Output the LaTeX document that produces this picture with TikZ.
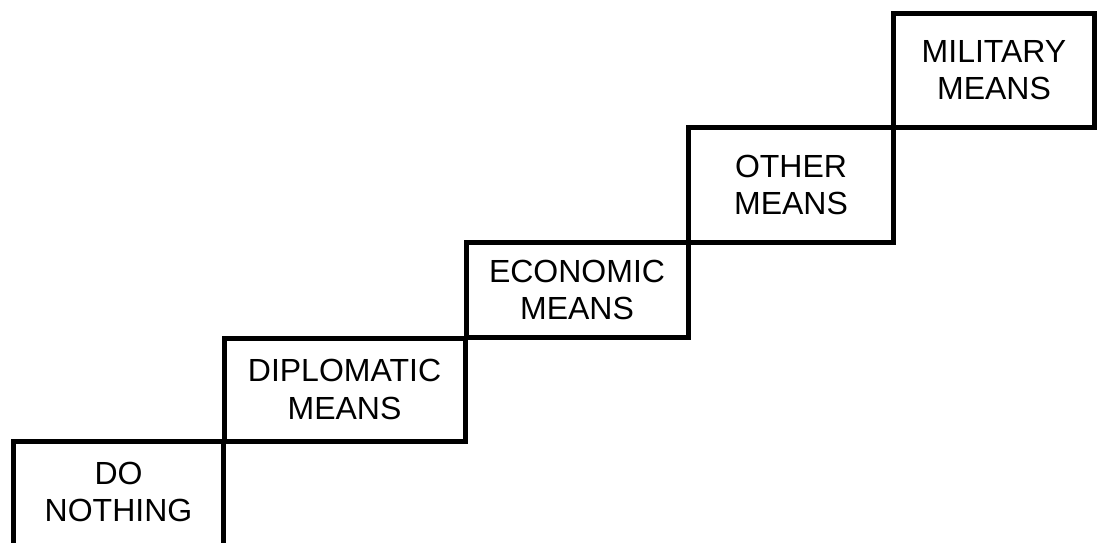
\documentclass[tikz,border=0pt]{standalone}
\usepackage{fontspec}
\setmainfont{Liberation Sans}
\begin{document}
\begin{tikzpicture}[x=1pt, y=-1pt,
  stair/.style={rectangle, draw, line width=5pt, inner sep=0pt, outer sep=0pt,
    align=center, font=\fontsize{32}{37.7}\selectfont},
  openstair/.style={stair, draw=none}]
  \useasboundingbox (0,0) rectangle (1097,542);
  % lowest step runs off the bottom edge, so only three of its sides are drawn
  \node[openstair, minimum width=210pt, minimum height=101pt] (n1) at (118.5,492) {DO\\NOTHING};
  \draw[line width=5pt] (n1.south west) -- (n1.north west) -- (n1.north east) -- (n1.south east);
  \node[stair, minimum width=241pt, minimum height=103.5pt] (n2) at (344.5,389.75) {DIPLOMATIC\\MEANS};
  \node[stair, minimum width=222pt, minimum height=95pt] (n3) at (577,290) {ECONOMIC\\MEANS};
  \node[stair, minimum width=205pt, minimum height=115pt] (n4) at (791,185) {OTHER\\MEANS};
  \node[stair, minimum width=201pt, minimum height=114.5pt] (n5) at (994,70.25) {MILITARY\\MEANS};
\end{tikzpicture}
\end{document}
